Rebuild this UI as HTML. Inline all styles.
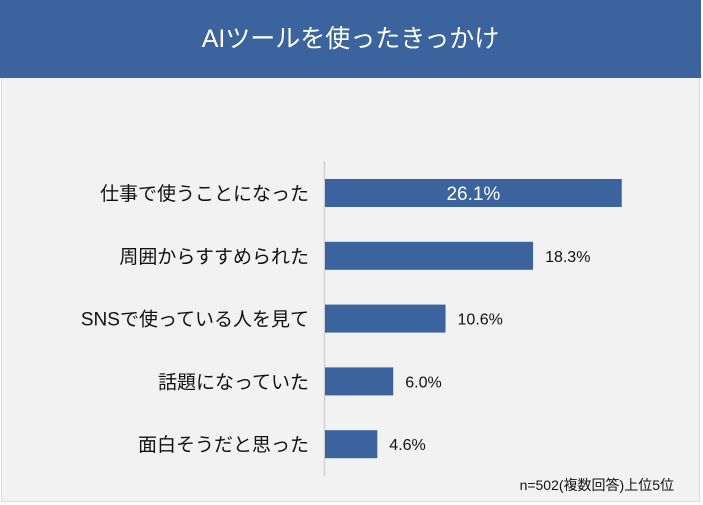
<!DOCTYPE html>
<html><head><meta charset="utf-8"><style>
body{margin:0;width:703px;height:505px;background:#fff;font-family:"Liberation Sans","Noto Sans CJK JP",sans-serif;overflow:hidden}
#frame{position:absolute;left:1px;top:1px;width:699px;height:501px;background:#f2f2f2;border:1px solid #dcdcdc;box-sizing:border-box}
#title{position:absolute;left:0;top:0;width:701px;height:78px;background:#3b639d;color:#fff;font-size:25px;text-align:center;line-height:78px}
</style></head><body>
<div id="frame"></div>
<div id="title">AIツールを使ったきっかけ</div>
<svg id="chart" width="703" height="505" style="position:absolute;left:0;top:0">
<line x1="324.5" y1="161" x2="324.5" y2="476" stroke="#d0d0d0" stroke-width="1.5"/>
<g id="bars"></g>
<text x="674" y="490" text-anchor="end" font-size="14" fill="#111">n=502(複数回答)上位5位</text>
</svg>
<script>
const categories=["仕事で使うことになった","周囲からすすめられた","SNSで使っている人を見て","話題になっていた","面白そうだと思った"];
const values=[26.1,18.3,10.6,6.0,4.6];
const x0=325,pxPer=11.37;
const xScale=v=>x0+v*pxPer;
const yCenter=i=>193+i*62.8;
const g=document.getElementById('bars');
const ns="http://www.w3.org/2000/svg";
categories.forEach((c,i)=>{
  const y=yCenter(i);
  const r=document.createElementNS(ns,'rect');
  
  
  r.setAttribute('x',x0);r.setAttribute('y',y-14);
  r.setAttribute('width',xScale(values[i])-x0);r.setAttribute('height',28);
  r.setAttribute('fill','#3b639d');g.appendChild(r);
  const l=document.createElementNS(ns,'text');
  
  
  l.setAttribute('x',309);l.setAttribute('y',y+7);l.setAttribute('text-anchor','end');
  l.setAttribute('font-size','19');l.setAttribute('fill','#111');l.textContent=c;g.appendChild(l);
  const v=document.createElementNS(ns,'text');
  
  
  const inside=i===0;
  v.setAttribute('x',inside?(x0+xScale(values[i]))/2:xScale(values[i])+12);
  v.setAttribute('y',y+(inside?7:6));
  v.setAttribute('text-anchor',inside?'middle':'start');
  v.setAttribute('font-size',inside?'19':'16');
  v.setAttribute('fill',inside?'#fff':'#111');
  v.textContent=values[i].toFixed(1)+'%';g.appendChild(v);
});
</script>
</body></html>
